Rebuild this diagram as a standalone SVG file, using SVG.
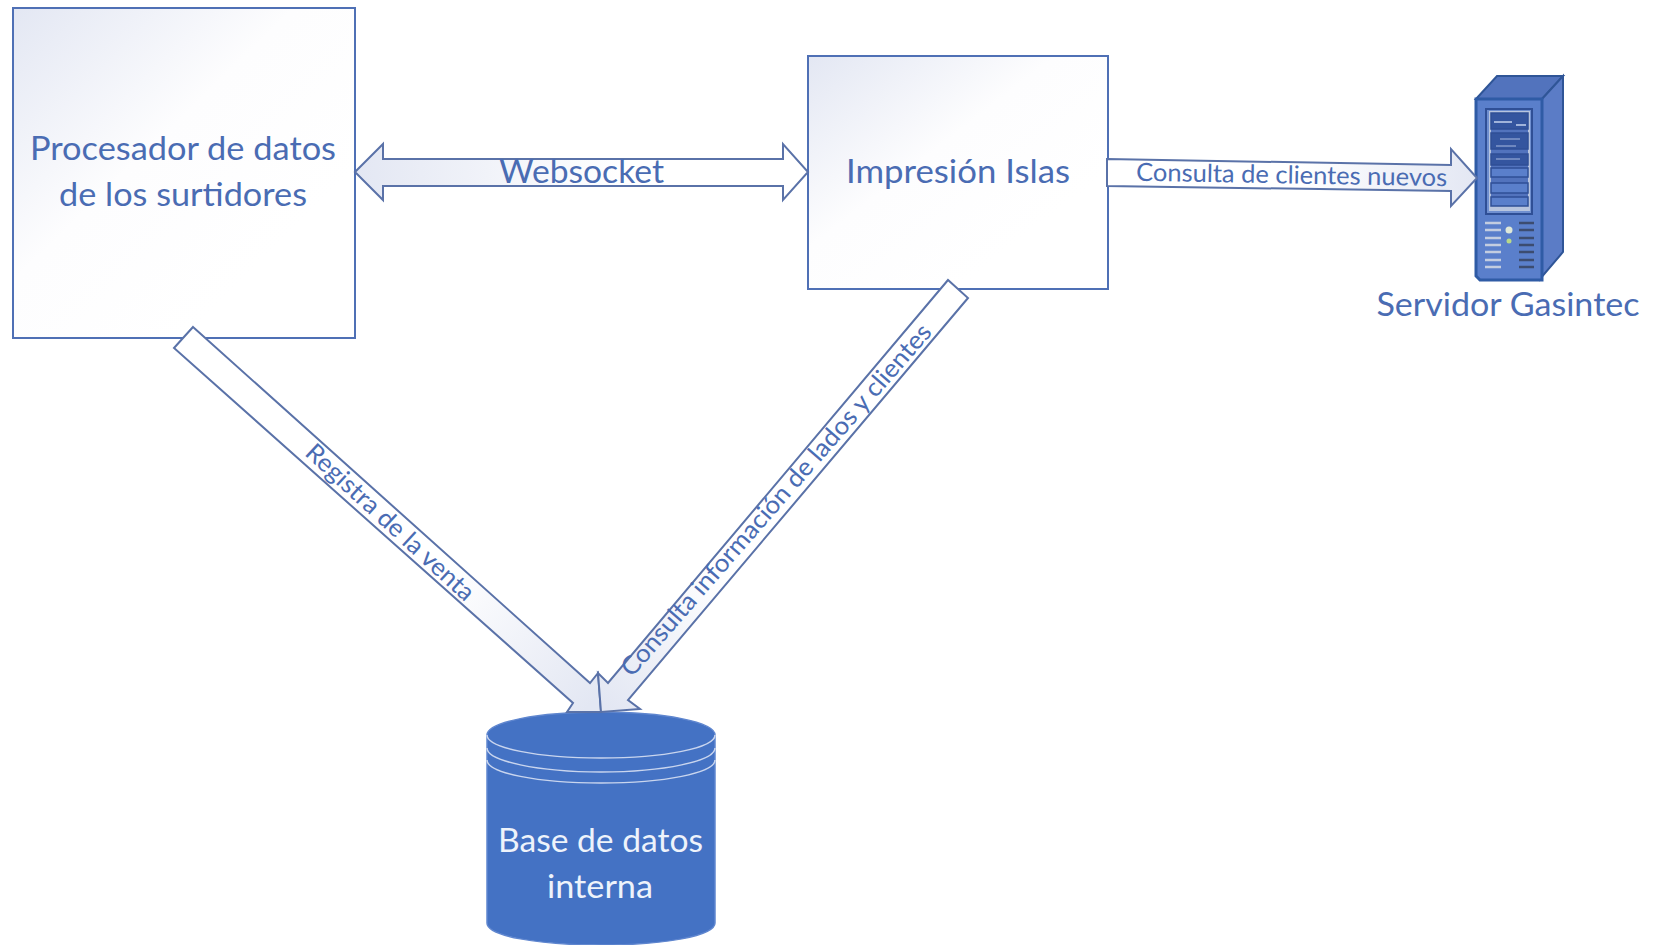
<svg xmlns="http://www.w3.org/2000/svg" width="1658" height="945" viewBox="0 0 1658 945">
<style>
.t{font-family:Lato,"Open Sans","Liberation Sans",sans-serif;fill:#4a6cb3;text-anchor:middle}
.l{font-size:32px}
.s{font-size:25px}
.w{fill:#e9eef8}
.box{stroke:#4f70b5;stroke-width:2}
.arr{stroke:#5a72a8;stroke-width:2;stroke-linejoin:miter}
.dark{fill:#3f5fa8;stroke:#2f5597;stroke-width:2}
.slot{fill:#5a7fcb;stroke:#2f4f96;stroke-width:1.5}
.slotd{fill:#34559f;stroke:#2f4f96;stroke-width:1.5}
.v{stroke:#c3cde0;stroke-width:2.5}
.v2{stroke:#3c4c70;stroke-width:2.5}
.ring{fill:none;stroke:#c9d5ee;stroke-width:1.5}
</style>
<defs>
<linearGradient id="g" x1="0" y1="0" x2="0.75" y2="0.75"><stop offset="0" stop-color="#e3e7f3"/><stop offset="0.55" stop-color="#fdfdfe"/><stop offset="1" stop-color="#fff"/></linearGradient>
<linearGradient id="gh" gradientUnits="userSpaceOnUse" x1="355" y1="172" x2="620" y2="172"><stop offset="0" stop-color="#e3e7f3"/><stop offset="1" stop-color="#fff"/></linearGradient>
<linearGradient id="gh2" gradientUnits="userSpaceOnUse" x1="1477" y1="178" x2="1300" y2="178"><stop offset="0" stop-color="#e3e7f3"/><stop offset="1" stop-color="#fff"/></linearGradient>
<linearGradient id="gd1" gradientUnits="userSpaceOnUse" x1="590" y1="705" x2="450" y2="570"><stop offset="0" stop-color="#e3e7f3"/><stop offset="1" stop-color="#fff"/></linearGradient>
<linearGradient id="gd2" gradientUnits="userSpaceOnUse" x1="605" y1="705" x2="720" y2="570"><stop offset="0" stop-color="#e3e7f3"/><stop offset="1" stop-color="#fff"/></linearGradient>
</defs>
<rect width="1658" height="945" fill="#fff"/>
<g id="procesador">
<rect class="box" x="13" y="8" width="342" height="330" fill="url(#g)"/>
<text class="t l" x="183" y="160" textLength="306" lengthAdjust="spacingAndGlyphs">Procesador de datos</text>
<text class="t l" x="183" y="206" textLength="248" lengthAdjust="spacingAndGlyphs">de los surtidores</text>
</g>
<g id="impresion">
<rect class="box" x="808" y="56" width="300" height="233" fill="url(#g)"/>
<text class="t l" x="958" y="183" textLength="224" lengthAdjust="spacingAndGlyphs">Impresión Islas</text>
</g>
<g id="servidor">
<path d="M1476 99L1497 76H1563L1542 99Z" fill="#5273bd" stroke="#2f5597" stroke-width="2"/>
<path d="M1542 99L1563 76V252L1540 279Z" fill="#5b7cc6" stroke="#2f5597" stroke-width="2"/>
<path d="M1476 99H1542V280H1480L1476 276Z" fill="#5a7fcb" stroke="#2f5ba5" stroke-width="3"/>
<rect x="1486" y="109" width="46" height="105" fill="#6f8fd0" stroke="#2f4f96" stroke-width="2"/>
<rect x="1489" y="111" width="41" height="100" fill="#b7c4de"/>
<rect x="1491" y="113" width="37" height="91" fill="#5273bd"/>
<rect class="slotd" x="1491" y="113" width="37" height="16"/>
<rect class="slotd" x="1491" y="133" width="37" height="16"/>
<rect class="slotd" x="1491" y="154" width="37" height="11"/>
<rect class="slot" x="1491" y="168" width="37" height="9"/>
<rect class="slot" x="1491" y="183" width="37" height="10"/>
<rect class="slot" x="1491" y="197" width="37" height="9"/>
<path d="M1494 122H1512M1516 125H1526" stroke="#c3d2ee" stroke-width="1.5"/>
<path d="M1496 146H1516M1500 139H1520" stroke="#a9bbe0" stroke-width="1"/>
<path d="M1496 159H1520" stroke="#a9bbe0" stroke-width="1"/>
<g class="v"><path class="v" d="M1485 223H1501M1485 230H1501M1485 238H1501M1485 245H1501M1485 252H1501M1485 260H1501M1485 267H1501"/></g>
<path class="v2" d="M1519 223H1534M1519 230H1534M1519 238H1534M1519 245H1534M1519 252H1534M1519 260H1534M1519 267H1534"/>
<circle cx="1509" cy="230" r="3.5" fill="#dfe8d8"/>
<circle cx="1509" cy="241" r="2.5" fill="#b9d98a"/>
<text class="t l" x="1508" y="316" textLength="263" lengthAdjust="spacingAndGlyphs">Servidor Gasintec</text>
</g>
<g id="base-datos">
<path d="M487 735C487 722 538 712 601 712S715 722 715 735V923C715 936 664 945 601 945S487 936 487 923Z" fill="#4472c4" stroke="#5f86cf" stroke-width="1.5"/>
<path class="ring" d="M487 735C487 748 538 758 601 758S715 748 715 735"/>
<path class="ring" d="M487 748C487 761 538 772 601 772S715 761 715 748"/>
<path class="ring" d="M487 760C487 773 538 783 601 783S715 773 715 760"/>
<text class="t l" x="600.500" y="852" textLength="205" lengthAdjust="spacingAndGlyphs" style="fill:#eef3fb">Base de datos</text>
<text class="t l" x="600" y="898" textLength="106" lengthAdjust="spacingAndGlyphs" style="fill:#eef3fb">interna</text>
</g>
<g id="connectors">
<path class="arr" d="M355 172L383 144V159H783V144L808 172L783 200V186H383V200Z" fill="url(#gh)"/>
<path class="arr" d="M1107 159L1451 165V149L1477 178L1451 206V191L1107 186Z" fill="url(#gh2)"/>
<path class="arr" d="M193 327L590 683L598 673L601 712H567L573 703L174 348Z" fill="url(#gd1)"/>
<path class="arr" d="M948 280L608 683L598 673L601 712L640 709L628 700L968 298Z" fill="url(#gd2)"/>
<text class="t l" x="581.500" y="183" textLength="165" lengthAdjust="spacingAndGlyphs">Websocket</text>
<text class="t s" transform="translate(1291.500 183.500) rotate(1)" textLength="311" lengthAdjust="spacingAndGlyphs">Consulta de clientes nuevos</text>
<text class="t s" transform="translate(384.500 528.500) rotate(42.500)" textLength="219" lengthAdjust="spacingAndGlyphs">Registra de la venta</text>
<text class="t s" transform="translate(782.500 505.500) rotate(-48.900)" textLength="458" lengthAdjust="spacingAndGlyphs">Consulta información de lados y clientes</text>
</g>
</svg>
